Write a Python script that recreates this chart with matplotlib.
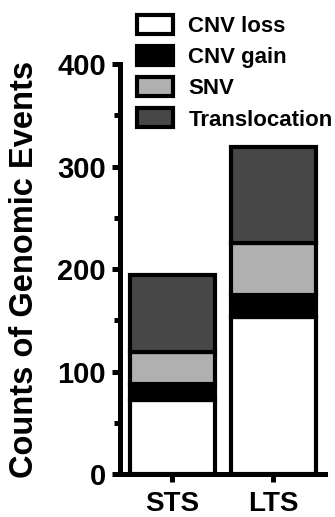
import numpy as np
from matplotlib import pyplot as plt

groups = ["STS", "LTS"]
cnv_loss = [72, 153]
cnv_gain = [16, 22]
snv = [31, 50]
translocation = [75, 94]

series = [
    ("CNV loss", cnv_loss, "#ffffff"),
    ("CNV gain", cnv_gain, "#000000"),
    ("SNV", snv, "#b0b0b0"),
    ("Translocation", translocation, "#474747"),
]

plt.rcParams["font.family"] = ["Liberation Sans", "DejaVu Sans"]
plt.rcParams["font.weight"] = "bold"

fig = plt.figure(figsize=(3.35, 5.17), dpi=100)
ax = fig.add_axes([0.358, 0.083, 0.612, 0.793])

x = np.arange(len(groups))
bottom = np.zeros(len(groups))
for label, values, color in series:
    ax.bar(x, values, width=0.84, bottom=bottom, color=color,
           edgecolor="black", linewidth=3, label=label)
    bottom += np.array(values)

ax.set_xlim(-0.515, 1.51)
ax.set_ylim(0, 400)
ax.set_yticks([0, 100, 200, 300, 400])
ax.set_yticks([50, 150, 250, 350], minor=True)
ax.set_xticks(x)
ax.set_xticklabels(groups)

for side in ["top", "right"]:
    ax.spines[side].set_visible(False)
for side in ["left", "bottom"]:
    ax.spines[side].set_linewidth(3.6)

ax.tick_params(axis="both", which="major", width=3.6, length=6,
               labelsize=21, pad=4)
ax.tick_params(axis="y", which="minor", width=3.6, length=4)
ax.tick_params(axis="x", labelsize=20, pad=6)

ax.set_ylabel("Counts of Genomic Events", fontsize=23.5, fontweight="bold")
ax.yaxis.set_label_coords(-0.39, 0.5)

ax.legend(loc="upper left", bbox_to_anchor=(0.41, 0.971),
          bbox_transform=fig.transFigure, frameon=False, fontsize=16,
          handlelength=1.6, handleheight=0.95, handletextpad=0.7,
          labelspacing=0.4, borderaxespad=0, borderpad=0)

fig.savefig("out.png", dpi=100)
